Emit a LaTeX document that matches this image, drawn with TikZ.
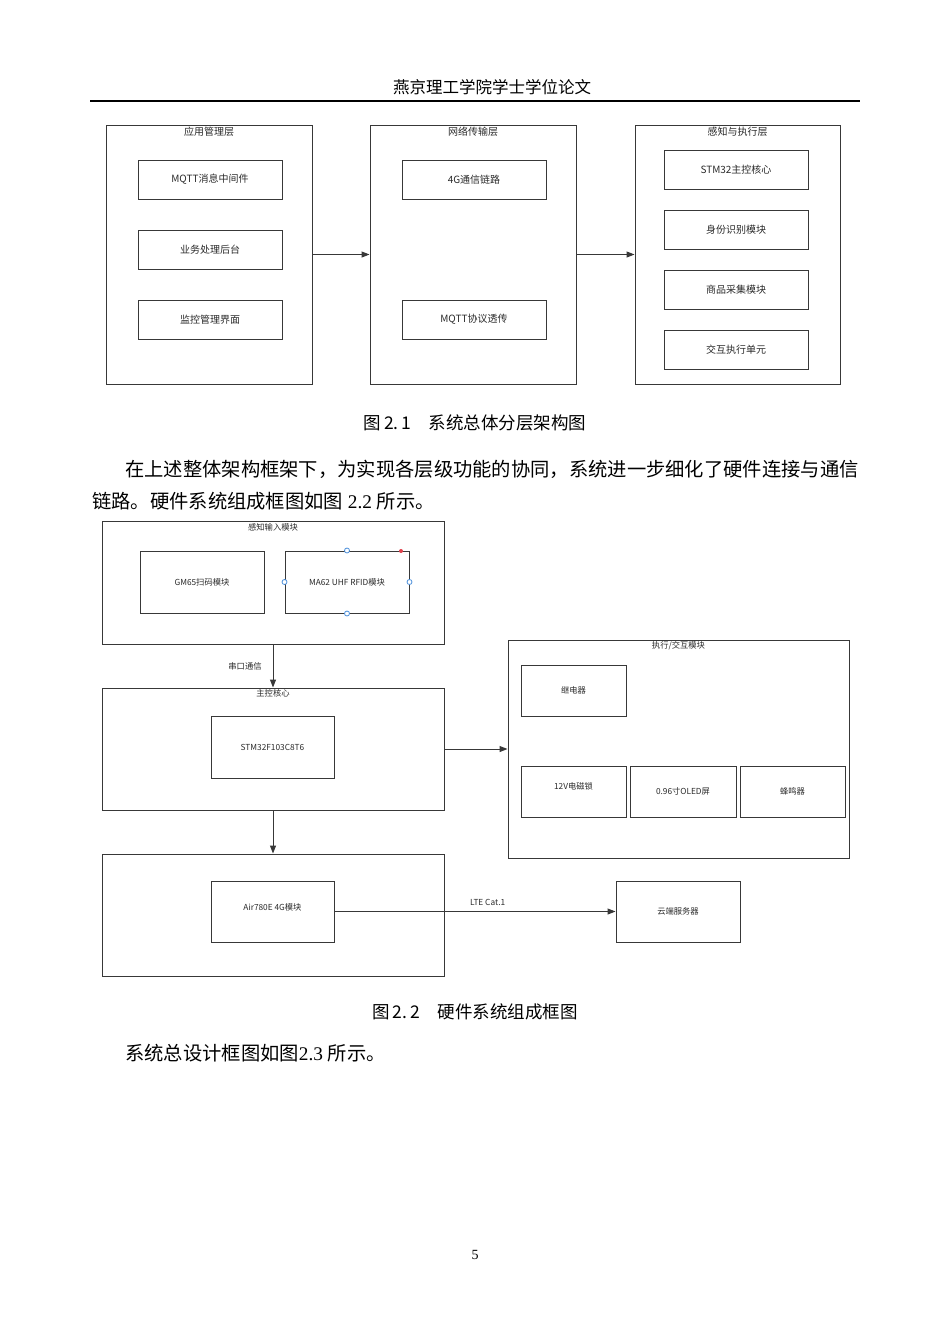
\documentclass[tikz,border=0pt]{standalone}
\usepackage{fontspec}
\setmainfont{Liberation Serif}
\newfontfamily\cjk{Noto Sans CJK SC}
\usetikzlibrary{arrows.meta}
\definecolor{lc}{HTML}{383838}
\definecolor{tc}{HTML}{2A2A2A}
\definecolor{hb}{HTML}{4A8FDB}
\definecolor{hr}{HTML}{E0404A}
\begin{document}
\begin{tikzpicture}[x=1pt,y=-1pt,
  box/.style={draw=lc, line width=1pt, inner sep=0pt, text=tc, font=\cjk\fontsize{10}{11}\selectfont},
  sbox/.style={draw=lc, line width=1pt, inner sep=0pt, text=tc, font=\cjk\fontsize{8.3}{9}\selectfont},
  ttl/.style={inner sep=0pt, text=tc, font=\cjk\fontsize{10}{11}\selectfont},
  sttl/.style={inner sep=0pt, text=tc, font=\cjk\fontsize{8.3}{9}\selectfont},
  conn/.style={draw=lc, line width=1pt, -{Triangle[length=8pt,width=6pt]}},
  body/.style={inner sep=0pt, anchor=west, font=\fontsize{19.3}{22}\selectfont},
  figcap/.style={inner sep=0pt, font=\cjk\fontsize{17.5}{20}\selectfont},
  handle/.style={circle, draw=hb, fill=white, line width=0.8pt, minimum size=5pt, inner sep=0pt}
]
\fill[white] (0,0) rectangle (950,1344);
\useasboundingbox (0,0) rectangle (950,1344);

% header
\node[inner sep=0pt, font=\cjk\fontsize{16.5}{18}\selectfont] (hdr) at (492,87) {燕京理工学院学士学位论文};
\coordinate (rl) at (90,101);
\coordinate (rr) at (860,101);
\draw[line width=1.3pt] (rl) -- (rr);

% ---------- Figure 2.1 ----------
\node[box, minimum width=206pt, minimum height=259pt] (A) at (209,254.5) {};
\node[ttl] (At) at (209,132) {应用管理层};
\node[box, minimum width=144pt, minimum height=39pt] (A1) at (210,179.5) {MQTT消息中间件};
\node[box, minimum width=144pt, minimum height=39pt] (A2) at (210,249.5) {业务处理后台};
\node[box, minimum width=144pt, minimum height=39pt] (A3) at (210,319.5) {监控管理界面};

\node[box, minimum width=206pt, minimum height=259pt] (B) at (473,254.5) {};
\node[ttl] (Bt) at (473,132) {网络传输层};
\node[box, minimum width=144pt, minimum height=39pt] (B1) at (474,179.5) {4G通信链路};
\node[box, minimum width=144pt, minimum height=39pt] (B2) at (474,319.5) {MQTT协议透传};

\node[box, minimum width=205pt, minimum height=259pt] (C) at (737.5,254.5) {};
\node[ttl] (Ct) at (737.5,132) {感知与执行层};
\node[box, minimum width=144pt, minimum height=39pt] (C1) at (736,169.5) {STM32主控核心};
\node[box, minimum width=144pt, minimum height=39pt] (C2) at (736,229.5) {身份识别模块};
\node[box, minimum width=144pt, minimum height=39pt] (C3) at (736,289.5) {商品采集模块};
\node[box, minimum width=144pt, minimum height=39pt] (C4) at (736,349.5) {交互执行单元};

\draw[conn] (A.east) -- (B.west);
\draw[conn] (B.east) -- (C.west);

\node[figcap] (cap1) at (475,423) {图\,2.\,1\hspace{1em}系统总体分层架构图};

% paragraph
\node[body] (p1) at (125,469) {\cjk 在上述整体架构框架下，为实现各层级功能的协同，系统进一步细化了硬件连接与通信};
\node[body] (p2) at (92,501) {{\cjk 链路。硬件系统组成框图如图} 2.2 {\cjk 所示。}};

% ---------- Figure 2.2 ----------
\node[sbox, minimum width=342pt, minimum height=123pt] (in) at (273,582.5) {};
\node[sttl] (int) at (273,527) {感知输入模块};
\node[sbox, minimum width=124pt, minimum height=62pt] (gm) at (202,582) {GM65扫码模块};
\node[sbox, minimum width=124pt, minimum height=62pt] (ma) at (347,582) {MA62 UHF RFID模块};
\node[handle] (h1) at (ma.north) {};
\node[handle] (h2) at (ma.south) {};
\node[handle] (h3) at (ma.west) {};
\node[handle] (h4) at (ma.east) {};
\fill[hr] (401,551) circle (2pt);

\node[sbox, minimum width=342pt, minimum height=122pt] (ctrl) at (273,749) {};
\node[sttl] (ctrlt) at (273,693) {主控核心};
\node[sbox, minimum width=123pt, minimum height=62pt] (stm) at (272.5,747) {STM32F103C8T6};

\node[sbox, minimum width=341pt, minimum height=218pt] (act) at (678.5,749) {};
\node[sttl] (actt) at (678.5,646) {执行/交互模块};
\node[sbox, minimum width=105pt, minimum height=51pt] (relay) at (573.5,690.5) {继电器};
\node[sbox, minimum width=105pt, minimum height=51pt] (lock) at (573.5,791.5) {};
\node[sttl] (lockt) at (573.5,786) {12V电磁锁};
\node[sbox, minimum width=106pt, minimum height=51pt] (oled) at (683,791.5) {0.96寸OLED屏};
\node[sbox, minimum width=105pt, minimum height=51pt] (buzz) at (792.5,791.5) {蜂鸣器};

\node[sbox, minimum width=342pt, minimum height=122pt] (g4) at (273,915) {};
\node[sbox, minimum width=123pt, minimum height=61pt] (air) at (272.5,911.5) {};
\node[sttl] (airt) at (272.5,907) {Air780E 4G模块};
\node[sbox, minimum width=124pt, minimum height=61pt] (cloud) at (678,911.5) {云端服务器};

\draw[conn] (in.south) -- node[sttl, pos=0.5, xshift=-28pt] {串口通信} (ctrl.north);
\draw[conn] (ctrl.east) -- (act.west);
\draw[conn] (ctrl.south) -- (g4.north);
\draw[conn] (air.east) -- node[sttl, pos=0.545, yshift=9pt] {LTE Cat.1} (cloud.west);

\node[figcap] (cap2) at (475,1012) {图\,2.\,2\hspace{1em}硬件系统组成框图};

\node[body] (p3) at (125,1053) {{\cjk 系统总设计框图如图}2.3 {\cjk 所示。}};

\node[inner sep=0pt, font=\fontsize{14}{16}\selectfont] (pg) at (475,1255) {5};
\end{tikzpicture}
\end{document}
